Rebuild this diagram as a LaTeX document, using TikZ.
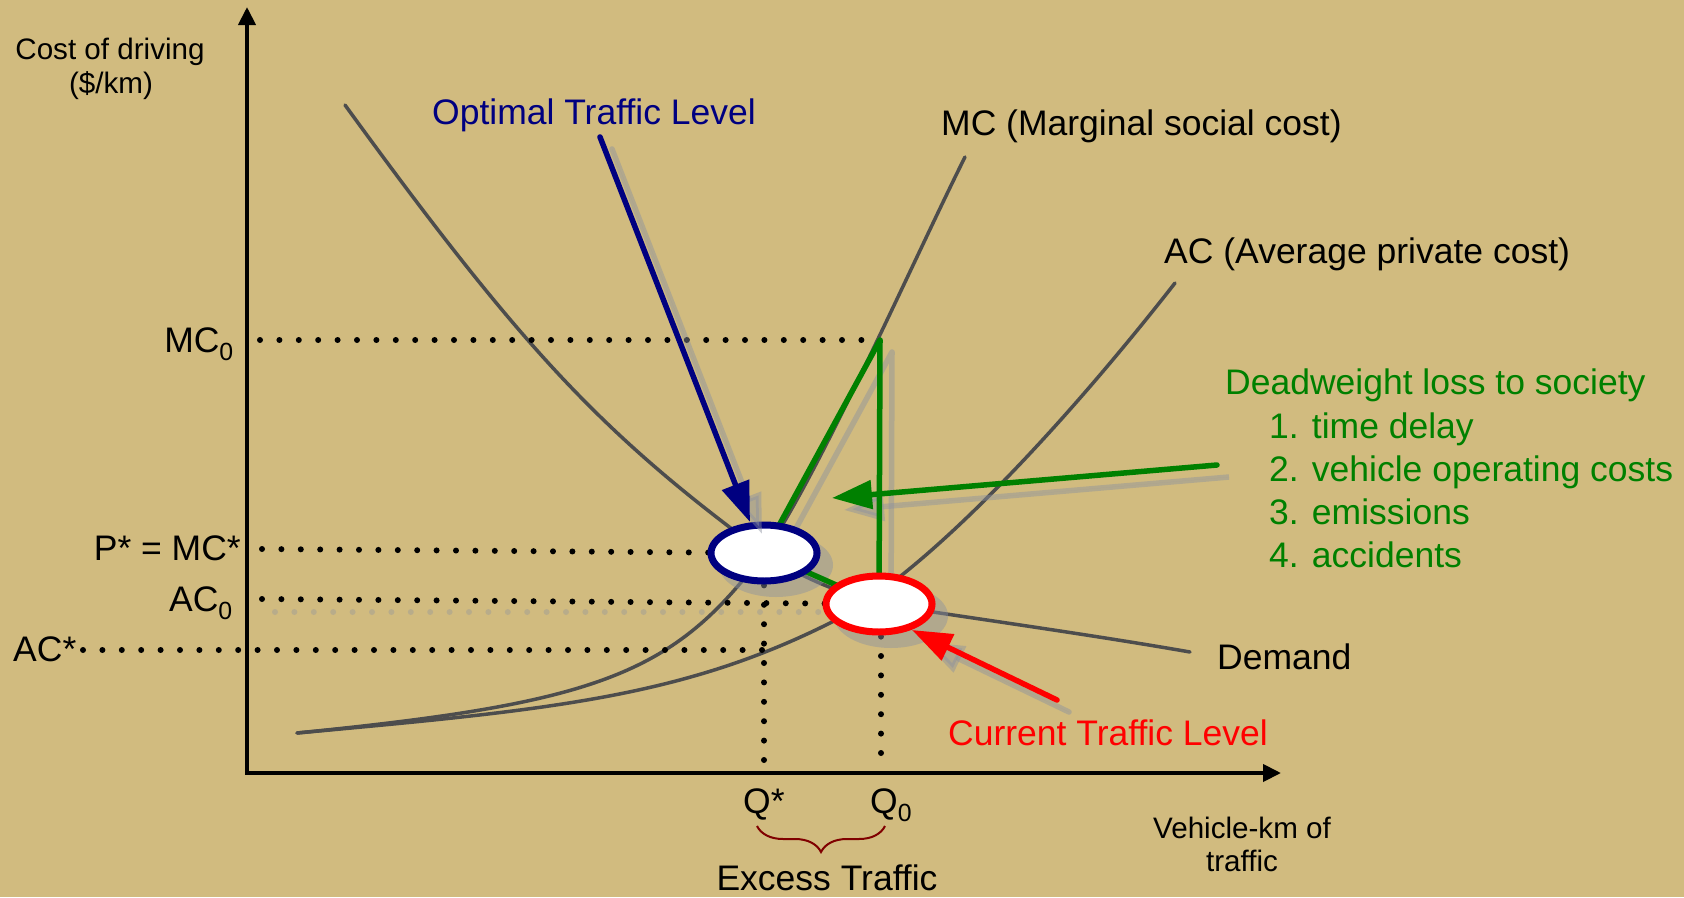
\documentclass[tikz,border=0pt]{standalone}
\usepackage{fontspec}
\setmainfont{Liberation Sans}
\usetikzlibrary{arrows.meta,shapes.geometric,decorations.pathreplacing}
\definecolor{bgtan}{RGB}{209,187,127}
\definecolor{curvegray}{RGB}{77,77,77}
\definecolor{dkgreen}{RGB}{0,128,0}
\definecolor{navyb}{RGB}{0,0,128}
\definecolor{shadowc}{RGB}{140,145,160}
\definecolor{bracered}{RGB}{128,0,0}
\begin{document}
\begin{tikzpicture}[x=1pt,y=-1pt,
  curve/.style={draw=curvegray, line width=3.5pt, line cap=round},
  guide/.style={draw=black, line width=6pt, line cap=round, dash pattern=on 0pt off 19.4pt},
  guideshd/.style={draw=shadowc, opacity=0.35, line width=6pt, line cap=round, dash pattern=on 0pt off 19.4pt},
  big/.style={font=\fontsize{35.5}{43}\selectfont, inner sep=0pt},
  small/.style={font=\fontsize{29.6}{35}\selectfont, inner sep=0pt},
  shd/.style={draw=shadowc, fill=shadowc, opacity=0.45, transform canvas={xshift=12pt,yshift=-12pt}},
  axisline/.style={draw=black, line width=4pt},
  gline/.style={draw=dkgreen, line width=5.5pt, line cap=round},
  bigtip/.style={-{Triangle[length=40pt,width=28pt]}},
  oval/.style={ellipse, fill=white, line width=7pt, minimum width=106pt, minimum height=56pt, inner sep=0pt},
  brc/.style={draw=bracered, line width=2pt, decorate, decoration={brace, amplitude=26pt, aspect=0.5}}
]
% background
\fill[bgtan] (0,0) rectangle (1684,897);
\useasboundingbox (0,0) rectangle (1684,897);

% key coordinates
\coordinate (origin) at (247,773);
\coordinate (ytop) at (247,7);
\coordinate (xend) at (1281,773);
\coordinate (mcz) at (880,340);
\coordinate (optc) at (764,553);
\coordinate (curc) at (879,604);

% curves
% Demand
\draw[curve] (345,105) .. controls (525,353) and (604,435) .. (optc)
   .. controls (820,590) and (880,607) .. (933,612)
   .. controls (1020,625) and (1110,638) .. (1190,652);
% MC
\draw[curve] (297,733) .. controls (597,703) and (674,675) .. (optc)
   .. controls (814,485) and (915,257) .. (965,157);
% AC
\draw[curve] (297,733) .. controls (547,710) and (680,698) .. (830,623)
   .. controls (930,573) and (1075,411) .. (1175,283);

% dotted guide lines
\draw[guide] (260,340) -- (mcz);
\draw[guide] (262,549) -- (optc);
\draw[guideshd] (275,612) -- (879,612);
\draw[guide] (262,599) -- (curc);
\draw[guide] (83,650) -- (764,650);
\draw[guide] (764,760) -- (optc);
\draw[guide] (881,753) -- (881,604);

% axes
\draw[axisline, {Triangle[length=18pt,width=17pt]}-{Triangle[length=18pt,width=17pt]}] (ytop) -- (origin) -- (xend);

% ellipse shadows
\fill[shadowc, opacity=0.45] (776,565) ellipse [x radius=57pt, y radius=32pt];
\fill[shadowc, opacity=0.45] (891,616) ellipse [x radius=57pt, y radius=32pt];

% green lines: shadows
\draw[shd, fill=none, line width=5.5pt, line join=round] (optc) -- (mcz) -- (curc);
\coordinate (dwstart) at (1217,465);
\coordinate (dwtip) at (832,498);
\draw[shd, line width=5.5pt, bigtip] (dwstart) -- (dwtip);

% green lines
\draw[gline] (optc) -- (curc);
\draw[gline, line join=round] (optc) -- (mcz) -- (curc);
\draw[gline, bigtip] (dwstart) -- (dwtip);

% ellipses
\node[oval, draw=navyb] (opt) at (optc) {};
\node[oval, draw=red] (cur) at (curc) {};

% blue arrow
\coordinate (optstart) at (600,137);
\coordinate (opttip) at (750,522);
\draw[shd, line width=5.5pt, line cap=round, bigtip] (optstart) -- (opttip);
\draw[draw=navyb, line width=5.5pt, line cap=round, bigtip] (optstart) -- (opttip);

% red arrow
\coordinate (curstart) at (1057,700);
\coordinate (curtip) at (912,630);
\draw[shd, line width=5.5pt, line cap=round, bigtip] (curstart) -- (curtip);
\draw[draw=red, line width=5.5pt, line cap=round, bigtip] (curstart) -- (curtip);

% axis labels
\node[small, anchor=base] (ylab1) at (110,59) {Cost of driving};
\node[small, anchor=base] (ylab2) at (111,93) {(\$/km)};
\node[small, anchor=base] (xlab1) at (1242,838) {Vehicle-km of};
\node[small, anchor=base] (xlab2) at (1242,871) {traffic};

% level labels
\node[big, anchor=base east] (lmc0) at (234,352) {MC\textsubscript{0}};
\node[big, anchor=base east] (lpstar) at (241,560) {P* = MC*};
\node[big, anchor=base east] (lac0) at (233,611) {AC\textsubscript{0}};
\node[big, anchor=base west] (lacstar) at (13,661) {AC*};
\node[big, anchor=base west] (lqstar) at (743,813) {Q*};
\node[big, anchor=base west] (lq0) at (870,813) {Q\textsubscript{0}};

% brace
\coordinate (brl) at (757,826);
\coordinate (brr) at (885,826);
\draw[brc] (brr) -- (brl);
\node[big, anchor=base] (lexcess) at (827,890) {Excess Traffic};

% curve labels
\node[big, text=navyb, anchor=base west] (lopt) at (432,124) {Optimal Traffic Level};
\node[big, anchor=base west] (lmc) at (941,135) {MC (Marginal social cost)};
\node[big, anchor=base west] (lac) at (1164,263) {AC (Average private cost)};
\node[big, text=dkgreen, anchor=base west] (ldw) at (1225,394) {Deadweight loss to society};
\node[big, text=dkgreen, anchor=base west] (ldw1) at (1269,438) {1. time delay};
\node[big, text=dkgreen, anchor=base west] (ldw2) at (1269,481) {2. vehicle operating costs};
\node[big, text=dkgreen, anchor=base west] (ldw3) at (1269,524) {3. emissions};
\node[big, text=dkgreen, anchor=base west] (ldw4) at (1269,567) {4. accidents};
\node[big, anchor=base west] (ldem) at (1217,669) {Demand};
\node[big, text=red, anchor=base west] (lcur) at (948,745) {Current Traffic Level};
\end{tikzpicture}
\end{document}
